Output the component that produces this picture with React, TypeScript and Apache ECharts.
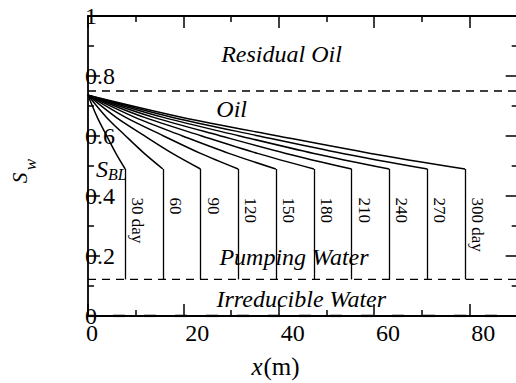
import React, { useEffect, useRef } from 'react';
import * as echarts from 'echarts';

// ---- data ----
const days = [30, 60, 90, 120, 150, 180, 210, 240, 270, 300];
const dayLabels = ['30 day', '60', '90', '120', '150', '180', '210', '240', '270', '300 day'];
// x position (m) of the Buckley-Leverett front for each day
const frontX = [7.8, 15.7, 23.6, 31.5, 39.4, 47.4, 55.3, 63.2, 71.2, 79.1];
// water saturation levels along each profile (inlet -> front)
const profileSw = [0.736, 0.662, 0.601, 0.542, 0.49];
// x (m) of each saturation level, one row per day
const curveX = [
  [0, 1.95, 3.9, 5.85, 7.8],
  [0, 3.9, 7.85, 11.8, 15.7],
  [0, 5.9, 11.8, 17.7, 23.6],
  [0, 7.9, 15.75, 23.6, 31.5],
  [0, 9.85, 19.7, 29.55, 39.4],
  [0, 11.85, 23.7, 35.55, 47.4],
  [0, 13.8, 27.65, 41.5, 55.3],
  [0, 15.8, 31.6, 47.4, 63.2],
  [0, 17.8, 35.6, 53.4, 71.2],
  [0, 19.8, 39.55, 59.3, 79.1],
];
const residualOilSw = 0.75;
const pumpingWaterSw = 0.122;
const irreducibleSw = 0;
const dayLabelSw = 0.395;
const xTickLabels = [0, 20, 40, 60, 80];
const yTickLabels = [0, 0.2, 0.4, 0.6, 0.8, 1];

const FONT = 'Liberation Serif, serif';

export default function App() {
  const ref = useRef<HTMLDivElement>(null);
  useEffect(() => {
    if (!ref.current) return;
    const chart = echarts.init(ref.current, undefined, { renderer: 'svg' });

    const dashed = (sw: number, dash: number[], width: number, offset = 0) => ({
      type: 'line',
      data: [[0, sw], [100, sw]],
      symbol: 'none',
      silent: true,
      z: 3,
      lineStyle: { color: '#000', width, type: dash, dashOffset: offset },
    });

    const series: any[] = [
      dashed(residualOilSw, [8, 6], 1.3),
      dashed(pumpingWaterSw, [8, 6], 1.3),
      dashed(irreducibleSw, [12, 19], 2.6, 6),
    ];
    days.forEach((d, i) => {
      series.push({
        type: 'line',
        name: `${d} day`,
        data: curveX[i].map((x, j) => [x, profileSw[j]]),
        smooth: 0.3,
        symbol: 'none',
        silent: true,
        lineStyle: { color: '#000', width: 1.5 },
        markLine: {
          silent: true,
          symbol: ['none', 'none'],
          label: { show: false },
          lineStyle: { color: '#000', width: 1.3, type: 'solid' },
          data: [[
            { coord: [frontX[i], profileSw[profileSw.length - 1]] },
            { coord: [frontX[i], pumpingWaterSw] },
          ]],
        },
      });
    });

    const tickStyle = { color: '#000', width: 1.5 };
    const baseX = {
      type: 'value',
      min: 0,
      max: 100,
      interval: 20,
      axisLine: { onZero: false, lineStyle: { color: '#000', width: 1.8 } },
      axisTick: { inside: true, length: 12, lineStyle: tickStyle },
      minorTick: { show: true, splitNumber: 2, length: 6, lineStyle: tickStyle },
      splitLine: { show: false },
      minorSplitLine: { show: false },
    };
    const baseY = {
      type: 'value',
      min: 0,
      max: 1,
      interval: 0.2,
      axisLine: { onZero: false, lineStyle: { color: '#000', width: 1.8 } },
      axisTick: { inside: true, length: 12, lineStyle: tickStyle },
      minorTick: { show: true, splitNumber: 2, length: 6, lineStyle: tickStyle },
      splitLine: { show: false },
      minorSplitLine: { show: false },
    };
    const lbl = { fontFamily: FONT, fontSize: 24, color: '#000' };

    chart.setOption({
      animation: false,
      textStyle: { fontFamily: FONT },
      grid: { left: 88, top: 16, width: 476.7, height: 300 },
      xAxis: [
        {
          ...baseX,
          position: 'bottom',
          axisLabel: {
            margin: 5,
            showMaxLabel: false,
            ...lbl,
            formatter: (v: number) =>
              xTickLabels.indexOf(v) < 0 ? '' : v === 0 ? `{a|${v}}` : `{b|${v}}`,
            rich: {
              a: { ...lbl, padding: [0, 0, 0, 8] },
              b: { ...lbl, padding: [0, 0, 0, 28] },
            },
          },
        },
        { ...baseX, position: 'top', axisLabel: { show: false } },
      ],
      yAxis: [
        {
          ...baseY,
          position: 'left',
          axisLabel: {
            ...lbl,
            align: 'left',
            margin: 3,
            formatter: (v: number) => (yTickLabels.some((t) => Math.abs(t - v) < 1e-9) ? String(+v.toFixed(1)) : ''),
          },
        },
        { ...baseY, position: 'right', offset: -47, axisLabel: { show: false } },
      ],
      series,
    });

    const px = (x: number, y: number) => chart.convertToPixel({ xAxisIndex: 0, yAxisIndex: 0 }, [x, y]) as number[];
    const it = (size: number) => ({ fontFamily: FONT, fontSize: size, fontStyle: 'italic', fill: '#000' });

    const graphics: any[] = [];
    days.forEach((d, i) => {
      const p = px(frontX[i], dayLabelSw);
      graphics.push({
        type: 'text',
        x: p[0] + 12.5,
        y: p[1],
        rotation: -Math.PI / 2,
        silent: true,
        style: { text: dayLabels[i], fontFamily: FONT, fontSize: 17, fill: '#000', align: 'left', verticalAlign: 'middle' },
      });
    });
    const title = (text: string, x: number, y: number) => ({
      type: 'text', x, y, silent: true,
      style: { text, ...it(24), align: 'center', verticalAlign: 'middle' },
    });
    graphics.push(title('Residual Oil', 281.5, 53.6));
    graphics.push(title('Oil', 231.7, 109.3));
    graphics.push(title('Pumping Water', 294, 257));
    graphics.push(title('Irreducible Water', 301.3, 298.6));
    // S_BL
    graphics.push({ type: 'text', x: 96, y: 168.6, silent: true, style: { text: 'S', ...it(24), align: 'left', verticalAlign: 'middle' } });
    graphics.push({ type: 'text', x: 108, y: 174.6, silent: true, style: { text: 'BL', ...it(16), align: 'left', verticalAlign: 'middle' } });
    // x(m)
    graphics.push({ type: 'text', x: 251.4, y: 366.5, silent: true, style: { text: 'x', ...it(25), align: 'left', verticalAlign: 'middle' } });
    graphics.push({ type: 'text', x: 263.5, y: 366.5, silent: true, style: { text: '(m)', fontFamily: FONT, fontSize: 25, fill: '#000', align: 'left', verticalAlign: 'middle' } });
    // S_w (rotated)
    graphics.push({
      type: 'group', x: 27, y: 183.3, rotation: Math.PI / 2, silent: true,
      children: [
        { type: 'text', x: 0, y: -7.1, style: { text: 'S', ...it(21), align: 'left', verticalAlign: 'middle' } },
        { type: 'text', x: 13, y: 3.9, style: { text: 'w', ...it(17), align: 'left', verticalAlign: 'middle' } },
      ],
    });
    chart.setOption({ graphic: graphics });

    return () => chart.dispose();
  }, []);

  return (
    <div style={{ position: 'fixed', left: 0, top: 0, width: 516, height: 383, overflow: 'hidden', background: '#fff' }}>
      <div ref={ref} style={{ width: 600, height: 383 }} />
    </div>
  );
}
